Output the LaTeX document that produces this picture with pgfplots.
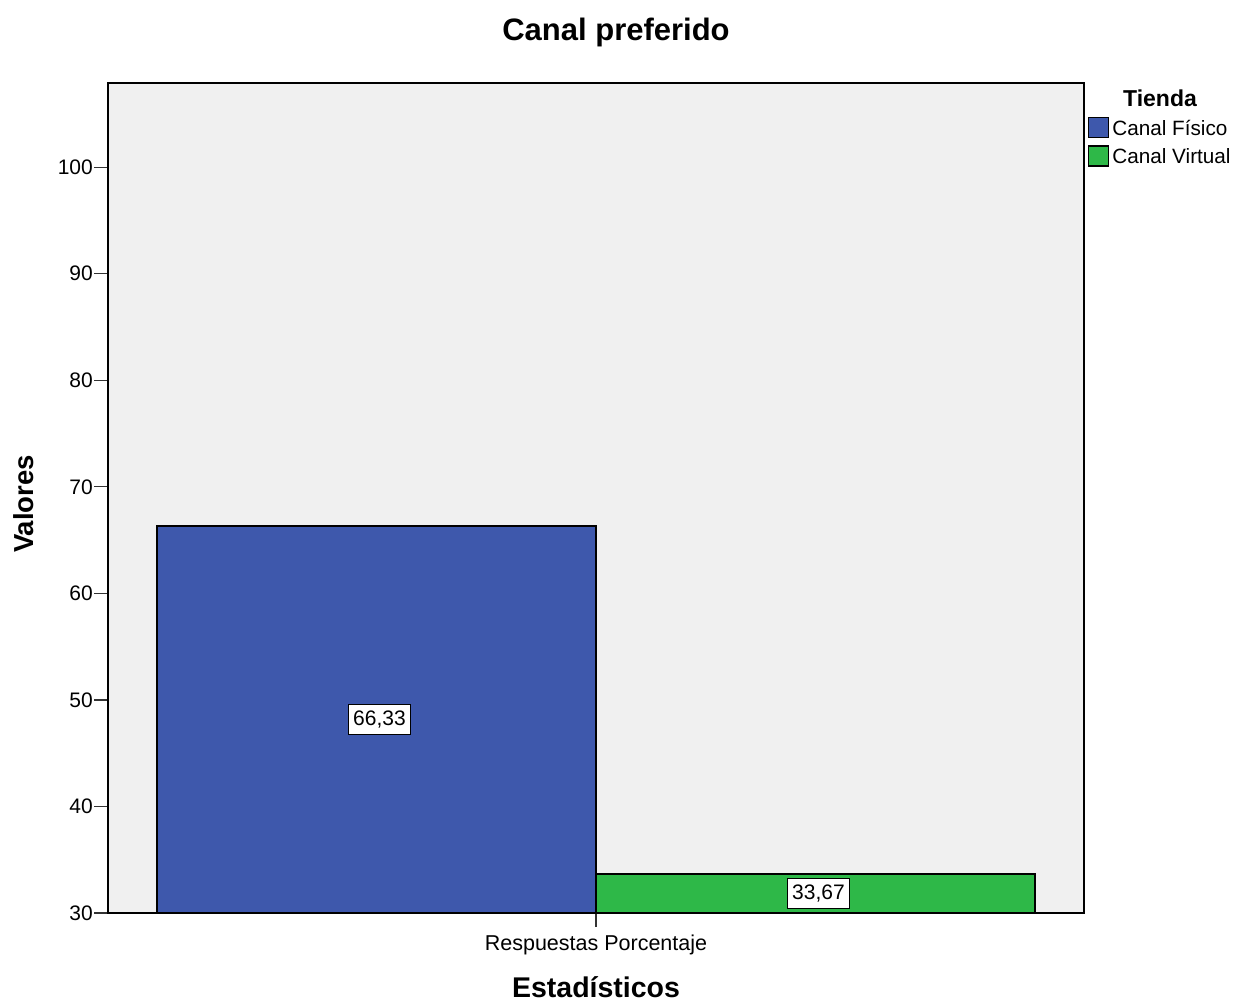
\documentclass[border=0pt]{standalone}
\usepackage{pgfplots}
\usepackage{pgfplotstable}
\pgfplotsset{compat=1.18}
\usepackage{fontspec}
\setmainfont{Liberation Sans}

\definecolor{fisico}{RGB}{62,88,172}
\definecolor{virtual}{RGB}{46,184,72}
\definecolor{fondo}{RGB}{240,240,240}

% one table per store channel: bar centre and percentage
\pgfplotstableread{
x v
-0.5 66.33
}\fisico
\pgfplotstableread{
x v
0.5 33.67
}\virtual

\tikzset{
  valuebox/.style={anchor=center, fill=white, draw=black, line width=1bp,
    inner xsep=4.5bp, inner ysep=6bp, font=\fontsize{21bp}{25bp}\selectfont,
    /pgf/number format/.cd, fixed, fixed zerofill, precision=2, use comma, assume math mode=true},
}

\begin{document}
\begin{tikzpicture}
\useasboundingbox (0,0) rectangle (1238bp,1001bp);
\begin{axis}[
  at={(108bp,88bp)}, anchor=south west,
  scale only axis, width=976bp, height=830bp,
  xmin=-1.1116, xmax=1.1116,
  ymin=30, ymax=107.9,
  ytick={30,40,...,100},
  xtick={0}, xticklabels={Respuestas Porcentaje},
  tick align=outside, major tick length=14bp,
  xtick pos=bottom, ytick pos=left,
  tick style={line width=1.2bp, color=black!80},
  axis line style={line width=1.3bp},
  axis background/.style={fill=fondo},
  axis on top,
  /pgf/number format/assume math mode=true,
  yticklabel style={font=\fontsize{21bp}{25bp}\selectfont, inner sep=0pt, xshift=-1bp},
  xticklabel style={font=\fontsize{21.5bp}{25bp}\selectfont, inner sep=0pt, yshift=-8bp},
  ybar, bar width=1,
  legend style={at={(1,1)}, anchor=north west, xshift=4bp, yshift=-34bp,
    draw=none, fill=none, inner sep=0pt,
    font=\fontsize{20.7bp}{24bp}\selectfont,
    nodes={inner sep=0pt, text height=15bp, text depth=0bp},
    /tikz/every odd column/.append style={column sep=3bp},
    row sep=7bp},
  legend cell align=left,
]
\addplot[fill=fisico, draw=black, line width=1.3bp, bar shift=0,
  legend image code/.code={\draw[fill=fisico,draw=black,line width=1.2bp] (0bp,-9.5bp) rectangle (20bp,10.5bp);}]
  table[x=x, y=v] {\fisico};
\addlegendentry{Canal Físico}
\addplot[fill=virtual, draw=black, line width=1.3bp, bar shift=0,
  legend image code/.code={\draw[fill=virtual,draw=black,line width=1.2bp] (0bp,-9.5bp) rectangle (20bp,10.5bp);}]
  table[x=x, y=v] {\virtual};
\addlegendentry{Canal Virtual}

% value labels, centred in the visible part of each bar
\pgfplotsset{every axis plot/.append style={forget plot}}
\addplot[draw=none, mark=none, bar width=0,
  nodes near coords, point meta=explicit,
  every node near coord/.append style={valuebox}]
  table[x=x, y expr={(30+\thisrow{v})/2}, meta=v] {\fisico};
\addplot[draw=none, mark=none, bar width=0,
  nodes near coords, point meta=explicit,
  every node near coord/.append style={valuebox}]
  table[x=x, y expr={(30+\thisrow{v})/2}, meta=v] {\virtual};
\end{axis}

\node[anchor=base, inner sep=0pt, font=\bfseries\fontsize{31bp}{35bp}\selectfont] at (616bp,960.5bp) {Canal preferido};
\node[anchor=base, inner sep=0pt, rotate=90, font=\bfseries\fontsize{27.5bp}{31bp}\selectfont] at (33bp,497bp) {Valores};
\node[anchor=base, inner sep=0pt, font=\bfseries\fontsize{28.5bp}{32bp}\selectfont] at (596bp,4bp) {Estadísticos};
\node[anchor=base, inner sep=0pt, font=\bfseries\fontsize{23bp}{26bp}\selectfont] at (1160bp,894bp) {Tienda};
\end{tikzpicture}
\end{document}
